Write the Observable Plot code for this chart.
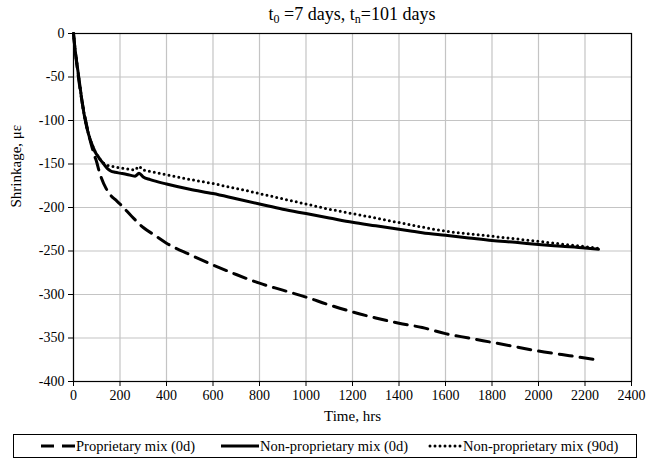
<!DOCTYPE html>
<html>
<head>
<meta charset="utf-8">
<script src="https://cdn.jsdelivr.net/npm/d3@7"></script>
<script src="https://cdn.jsdelivr.net/npm/@observablehq/plot@0.6"></script>
<style>
  html, body { margin: 0; padding: 0; background: #fff; }
  body { width: 648px; height: 458px; position: relative; overflow: hidden; font-family: "Liberation Serif", "Times New Roman", serif; color: #000; }
  #title { position: absolute; left: 73px; width: 558px; top: 3px; text-align: center; font-size: 18px; line-height: 22px; }
  #title sub { font-size: 12px; vertical-align: -3px; line-height: 0; }
  #chart { position: absolute; left: 0; top: 26px; }
  #legend { position: absolute; left: 13px; top: 434px; width: 622px; height: 22px; border: 1px solid #000; box-sizing: content-box; }
  .item { position: absolute; top: 0; height: 22px; display: flex; align-items: center; font-size: 14.5px; white-space: nowrap; }
  .item svg { display: block; }
</style>
</head>
<body>
<div id="title">t<sub>0</sub> =7 days, t<sub>n</sub>=101 days</div>
<div id="chart"></div>
<div id="legend"></div>
<script>
// ---- data ----
const seriesNames = ["Proprietary mix (0d)", "Non-proprietary mix (0d)", "Non-proprietary mix (90d)"];

const propTime = [0, 5, 10, 20, 30, 40, 50, 60, 70, 80, 90, 100, 110, 120, 140, 160, 180, 200, 250, 300, 350, 400, 500, 600, 700, 800, 900, 1000, 1100, 1200, 1300, 1400, 1500, 1600, 1700, 1800, 1900, 2000, 2100, 2200, 2265];
const propValue = [0, -14, -26, -48, -67, -83, -97, -110, -121, -131, -140, -148, -158, -166, -178, -186, -191, -196, -210, -223, -232, -241, -254, -266, -277, -287, -295, -303, -312, -320, -327, -333, -338, -345, -350, -355, -360, -365, -369, -373, -376];

const np0Time = [0, 5, 10, 15, 20, 30, 40, 50, 60, 72, 85, 95, 105, 115, 130, 145, 160, 180, 200, 230, 265, 275, 282, 300, 330, 400, 500, 600, 700, 800, 900, 1000, 1100, 1200, 1300, 1400, 1450, 1500, 1600, 1700, 1800, 1900, 2000, 2100, 2200, 2258];
const np0Value = [0, -14, -25, -35, -45, -65, -84, -99, -111, -122, -131, -137, -141, -145, -150, -155, -158, -159.5, -160.5, -162, -164, -162, -160.5, -165, -168, -173, -179, -184, -190, -196, -202, -207, -212, -217, -221, -225, -227, -229, -232, -235, -238, -240, -242.5, -244.5, -246.5, -248];

const np90Time = [0, 5, 10, 15, 20, 30, 40, 50, 60, 72, 85, 95, 105, 115, 130, 145, 170, 200, 230, 265, 275, 282, 300, 373, 450, 516, 600, 700, 800, 900, 1000, 1100, 1200, 1300, 1450, 1550, 1650, 1800, 1900, 2020, 2100, 2200, 2258];
const np90Value = [0, -14, -25, -35, -45, -65, -84, -99, -111, -122, -131, -137, -141, -145, -149, -151.5, -153, -154.5, -155.5, -157, -154, -152.5, -157, -161, -165, -168.5, -172.5, -178, -184, -190, -196, -202, -207, -212, -220, -225, -229, -233, -236, -239.5, -242, -245, -247];

const xTicks = [0, 200, 400, 600, 800, 1000, 1200, 1400, 1600, 1800, 2000, 2200, 2400];
const yTicks = [0, -50, -100, -150, -200, -250, -300, -350, -400];

const toRows = (ts, vs) => ts.map((t, i) => ({t, v: vs[i]}));
const propData = toRows(propTime, propValue);
const np0Data = toRows(np0Time, np0Value);
const np90Data = toRows(np90Time, np90Value);

const dashPattern = "13 8";
const dotPattern = "0 5";
const plainFormat = d => String(d);

const chart = Plot.plot({
  width: 648,
  height: 406,
  marginTop: 7,
  marginRight: 17,
  marginBottom: 51,
  marginLeft: 73,
  style: {fontFamily: "'Liberation Serif', 'Times New Roman', serif", fontSize: "14px", color: "#000", background: "#fff", overflow: "visible"},
  x: {domain: [0, 2400]},
  y: {domain: [-400, 0]},
  marks: [
    Plot.gridX(xTicks, {stroke: "#c4c4c4", strokeOpacity: 1, strokeWidth: 1.2}),
    Plot.gridY(yTicks, {stroke: "#c4c4c4", strokeOpacity: 1, strokeWidth: 1.2}),
    Plot.axisX(xTicks, {tickSize: 5, tickPadding: 4, stroke: "#000", tickFormat: plainFormat, label: null, fontSize: 14}),
    Plot.axisY(yTicks, {tickSize: 5, tickPadding: 4, stroke: "#000", tickFormat: plainFormat, label: null, fontSize: 14}),
    Plot.text(["Time, hrs"], {frameAnchor: "bottom", dy: 39, fontSize: 15, fill: "#000"}),
    Plot.text(["Shrinkage, με"], {frameAnchor: "left", dx: -57, rotate: -90, fontSize: 15, fill: "#000"}),
    Plot.frame({stroke: "#000", strokeWidth: 1.2}),
    Plot.line(np90Data, {x: "t", y: "v", stroke: "#000", strokeWidth: 3, strokeDasharray: dotPattern, strokeLinecap: "round"}),
    Plot.line(np0Data, {x: "t", y: "v", stroke: "#000", strokeWidth: 3, curve: "monotone-x"}),
    Plot.line(propData, {x: "t", y: "v", stroke: "#000", strokeWidth: 3, strokeDasharray: dashPattern, curve: "monotone-x"})
  ]
});
document.getElementById("chart").appendChild(chart);

// ---- legend ----
const legendItems = [
  {name: seriesNames[0], left: 27, sw: 34, dash: dashPattern, cap: "butt"},
  {name: seriesNames[1], left: 207, sw: 38, dash: null, cap: "butt"},
  {name: seriesNames[2], left: 414, sw: 34, dash: dotPattern, cap: "round"}
];
const legend = d3.select("#legend");
for (const it of legendItems) {
  const div = legend.append("div").attr("class", "item").style("left", it.left + "px");
  const svg = div.append("svg").attr("width", it.sw).attr("height", 10);
  const ln = svg.append("line").attr("x1", it.cap === "round" ? 2 : 0).attr("x2", it.sw).attr("y1", 5).attr("y2", 5)
    .attr("stroke", "#000").attr("stroke-width", 3).attr("stroke-linecap", it.cap);
  if (it.dash) ln.attr("stroke-dasharray", it.dash);
  div.append("span").style("margin-left", "1px").text(it.name);
}
</script>
</body>
</html>
